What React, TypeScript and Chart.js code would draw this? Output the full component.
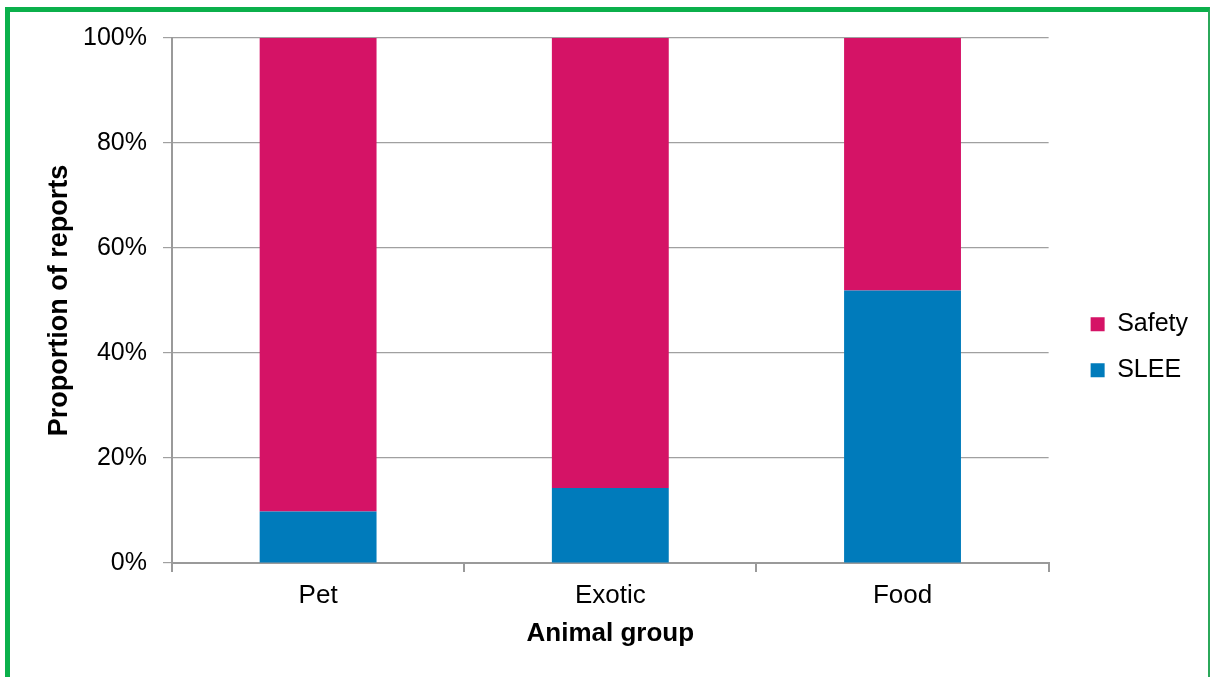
import React, { useEffect, useRef } from "react";
import { Chart, registerables } from "chart.js";

Chart.register(...registerables);

const categories = ["Pet", "Exotic", "Food"];
const sleeValues = [9.8, 14.3, 51.9];
const safetyValues = [90.2, 85.7, 48.1];
const yTicks = [0, 20, 40, 60, 80, 100];

const FONT = "'Liberation Sans', Arial, sans-serif";

export default function App() {
  const ref = useRef<HTMLCanvasElement | null>(null);

  useEffect(() => {
    if (!ref.current) return;
    const chart = new Chart(ref.current, {
      type: "bar",
      data: {
        labels: categories,
        datasets: [
          {
            label: "SLEE",
            data: sleeValues,
            backgroundColor: "#007BBB",
            borderWidth: 0,
            categoryPercentage: 1,
            barPercentage: 0.4,
          },
          {
            label: "Safety",
            data: safetyValues,
            backgroundColor: "#D51366",
            borderWidth: 0,
            categoryPercentage: 1,
            barPercentage: 0.4,
          },
        ],
      },
      options: {
        animation: false,
        responsive: false,
        maintainAspectRatio: false,
        layout: { padding: { left: 39, top: 38, bottom: 24, right: 12 } },
        plugins: {
          tooltip: { enabled: false },
          legend: {
            position: "right",
            reverse: true,
            title: { display: true, text: "", font: { size: 3 }, padding: 0 },
            labels: {
              boxWidth: 14,
              boxHeight: 14,
              padding: 21,
              color: "#000",
              font: { family: FONT, size: 25 },
            },
          },
        },
        scales: {
          x: {
            stacked: true,
            offset: true,
            grid: {
              offset: true,
              drawOnChartArea: false,
              drawTicks: true,
              tickLength: 9,
              color: "#9a9a9a",
              lineWidth: 2,
            },
            border: { display: true, color: "#9a9a9a", width: 2 },
            ticks: { color: "#000", padding: 8, font: { family: FONT, size: 26 } },
            title: {
              display: true,
              text: "Animal group",
              color: "#000",
              padding: { top: 4, bottom: 4 },
              font: { family: FONT, size: 26, weight: "bold" },
            },
            afterFit: (s: any) => {
              s.height = 653 - 563;
            },
          },
          y: {
            stacked: true,
            min: 0,
            max: 100,
            grid: { color: "#a0a0a0", lineWidth: 1.2, tickLength: 9, drawTicks: true },
            border: { display: true, color: "#9a9a9a", width: 2 },
            afterBuildTicks: (s: any) => {
              s.ticks = yTicks.map((v) => ({ value: v }));
            },
            ticks: {
              color: "#000",
              padding: 16,
              font: { family: FONT, size: 25 },
              callback: (v: any) => v + "%",
            },
            title: {
              display: true,
              text: "Proportion of reports",
              color: "#000",
              padding: { top: 4, bottom: 4 },
              font: { family: FONT, size: 27, weight: "bold" },
            },
            afterFit: (s: any) => {
              s.width = 172 - 39;
            },
          },
          spacer: {
            type: "linear",
            position: "right",
            display: true,
            grid: { display: false, drawTicks: false },
            border: { display: false },
            ticks: { display: false },
            afterFit: (s: any) => {
              s.width = 21;
            },
          },
        },
      } as any,
    });
    return () => chart.destroy();
  }, []);

  return (
    <div
      style={{
        position: "fixed",
        left: 0,
        top: 0,
        width: 1210,
        height: 677,
        background: "#fff",
        overflow: "hidden",
      }}
    >
      <canvas
        ref={ref}
        width={1210}
        height={677}
        style={{ position: "absolute", left: 0, top: 0, width: 1210, height: 677 }}
      />
      <div
        style={{
          position: "absolute",
          left: 5,
          top: 7,
          width: 1210 - 5 - 5 - 2,
          height: 700,
          borderLeft: "5px solid #0BB04B",
          borderTop: "5px solid #0BB04B",
          borderRight: "2px solid #2BA85A",
          pointerEvents: "none",
        }}
      />
    </div>
  );
}
